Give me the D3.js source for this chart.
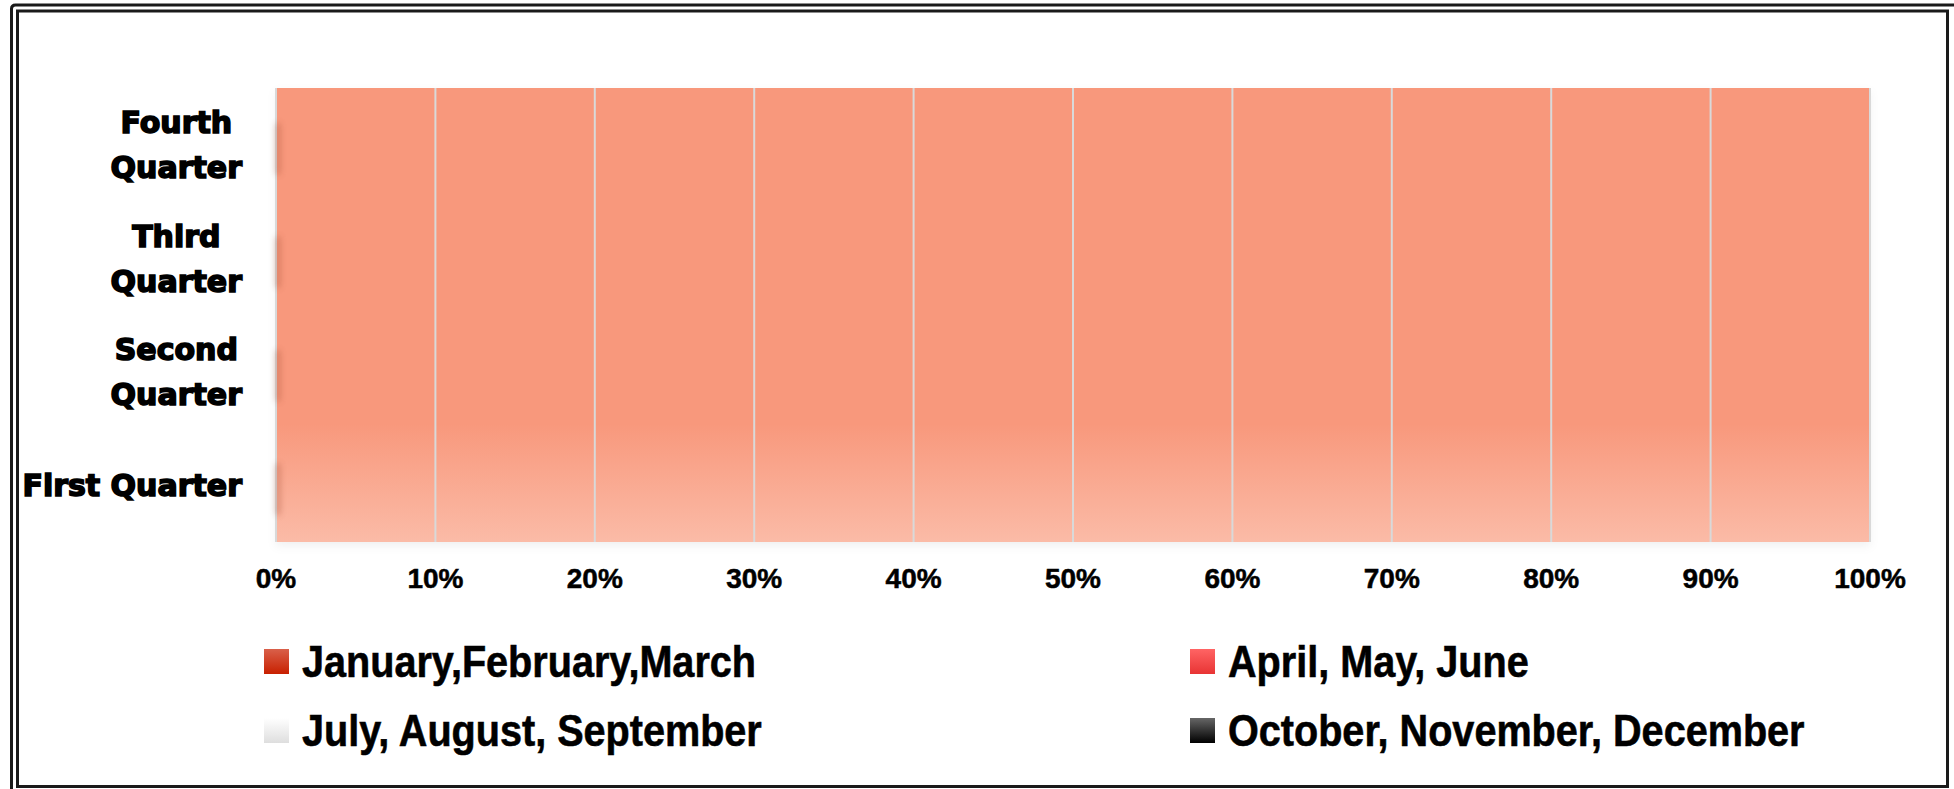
<!DOCTYPE html>
<html>
<head>
<meta charset="utf-8">
<script src="https://cdn.jsdelivr.net/npm/d3@7"></script>
<style>
  body { margin: 0; background: #fff; overflow: hidden; }
  svg { display: block; }
</style>
</head>
<body>
<svg id="chart"></svg>
<script>
// Categories (bottom to top) and series
const categories = ["First Quarter", "Second Quarter", "Third Quarter", "Fourth Quarter"];
const seriesNames = ["January,February,March", "April, May, June", "July, August, September", "October, November, December"];
// Values per series, one per category (bars are empty in the picture)
const janMar = [0, 0, 0, 0];
const aprJun = [0, 0, 0, 0];
const julSep = [0, 0, 0, 0];
const octDec = [0, 0, 0, 0];
const tickValues = [0, 0.1, 0.2, 0.3, 0.4, 0.5, 0.6, 0.7, 0.8, 0.9, 1];

const width = 1954, height = 789;
const svg = d3.select("#chart").attr("width", width).attr("height", height);
const defs = svg.append("defs");

// Frame: double border (outer one runs off the right and bottom edges)
svg.append("path").attr("d", `M11.5,${height} V9 Q11.5,5 15.5,5 H${width}`)
  .attr("fill", "none").attr("stroke", "#1a1a1a").attr("stroke-width", 3);
svg.append("rect").attr("x", 17.5).attr("y", 11).attr("width", 1930).attr("height", 775.5)
  .attr("fill", "none").attr("stroke", "#1a1a1a").attr("stroke-width", 3);

// Margin convention
const margin = { top: 88, left: 276, right: 1954 - 1870, bottom: 789 - 542 };
const innerWidth = width - margin.left - margin.right;
const innerHeight = height - margin.top - margin.bottom;

const x = d3.scaleLinear().domain([0, 1]).range([0, innerWidth]);
const y = d3.scaleBand().domain(categories.slice().reverse()).range([0, innerHeight]).paddingInner(0.55).paddingOuter(0.275);

const g = svg.append("g").attr("transform", `translate(${margin.left},${margin.top})`);

// Plot background gradient
const bg = defs.append("linearGradient").attr("id", "bg").attr("x1", 0).attr("y1", 0).attr("x2", 0).attr("y2", 1);
bg.append("stop").attr("offset", "0%").attr("stop-color", "#f8987c");
bg.append("stop").attr("offset", "74%").attr("stop-color", "#f8987c");
bg.append("stop").attr("offset", "100%").attr("stop-color", "#fbbba7");

const shadow = defs.append("filter").attr("id", "shadow").attr("x", "-5%").attr("y", "-5%").attr("width", "110%").attr("height", "115%");
shadow.append("feDropShadow").attr("dx", 0).attr("dy", 4).attr("stdDeviation", 5).attr("flood-color", "#000").attr("flood-opacity", 0.06);

g.append("rect").attr("width", innerWidth).attr("height", innerHeight)
  .attr("fill", "url(#bg)").attr("filter", "url(#shadow)");

// Gridlines
g.append("g").selectAll("line").data(tickValues).join("line")
  .attr("x1", d => x(d)).attr("x2", d => x(d))
  .attr("y1", 0).attr("y2", innerHeight)
  .attr("stroke", "#d9d9d9").attr("stroke-width", 2);

// Stacked, 100% normalised
const seriesVals = [janMar, aprJun, julSep, octDec];
const rows = categories.map((c, i) => {
  const row = { cat: c };
  const total = d3.sum(seriesVals, s => s[i]);
  seriesNames.forEach((n, j) => { row[n] = total ? seriesVals[j][i] / total : 0; });
  return row;
});
const stacked = d3.stack().keys(seriesNames)(rows);

const swatchGrads = [["#d9604a", "#c82000"], ["#ff6464", "#e83434"], ["#ffffff", "#dedede"], ["#666666", "#000000"]];
swatchGrads.forEach((c, i) => {
  const lg = defs.append("linearGradient").attr("id", "sw" + i).attr("x1", 0).attr("y1", 0).attr("x2", 0).attr("y2", 1);
  lg.append("stop").attr("offset", "0%").attr("stop-color", c[0]);
  lg.append("stop").attr("offset", "100%").attr("stop-color", c[1]);
});

const blur = defs.append("filter").attr("id", "blur").attr("x", "-300%").attr("y", "-50%").attr("width", "700%").attr("height", "200%");
blur.append("feGaussianBlur").attr("stdDeviation", 3);

// Bar shadows at the start of each bar
g.append("g").selectAll("rect").data(rows).join("rect")
  .attr("x", x(0)).attr("y", d => y(d.cat) + 4).attr("width", 4).attr("height", y.bandwidth())
  .attr("fill", "#9c4a33").attr("opacity", 0.45).attr("filter", "url(#blur)");

g.append("g").selectAll("g").data(stacked).join("g")
  .attr("fill", (d, i) => `url(#sw${i})`)
  .selectAll("rect").data(d => d).join("rect")
  .attr("x", d => x(d[0])).attr("y", d => y(d.data.cat))
  .attr("width", d => x(d[1]) - x(d[0])).attr("height", y.bandwidth());

// X tick labels
g.append("g").selectAll("text").data(tickValues).join("text")
  .attr("x", d => x(d)).attr("y", 588 - margin.top)
  .attr("text-anchor", "middle")
  .attr("font-family", "'Liberation Sans', Arial, sans-serif").attr("font-weight", "bold").attr("font-size", 28)
  .attr("fill", "#000").attr("stroke", "#000").attr("stroke-width", 0.5)
  .text(d3.format(".0%"));

// Category labels, wrapped when too long
const catLabels = g.append("g");
categories.forEach(c => {
  const cy = y(c) + y.bandwidth() / 2;
  const t = catLabels.append("text")
    .attr("font-family", "'DejaVu Sans', sans-serif").attr("font-weight", "bold").attr("font-size", 30)
    .attr("fill", "#000").attr("stroke", "#000").attr("stroke-width", 1.6)
    .attr("text-anchor", "middle").text(c);
  let lines = [c];
  if (t.node().getComputedTextLength() > 224) lines = c.split(" ");
  t.text(null);
  const widths = lines.map(l => { t.text(l); return t.node().getComputedTextLength(); });
  t.text(null);
  const cx = 242 - margin.left - d3.max(widths) / 2;
  lines.forEach((l, k) => {
    t.append("tspan").attr("x", cx).attr("y", cy + 11 - (lines.length - 1) * 22.5 + k * 45).text(l);
  });
});

// Legend
const legendPos = [[264, 649], [1190, 649], [264, 718], [1190, 718]];
const legend = svg.append("g").selectAll("g").data(seriesNames).join("g")
  .attr("transform", (d, i) => `translate(${legendPos[i][0]},${legendPos[i][1]})`);
legend.append("rect").attr("width", 25).attr("height", 25).attr("fill", (d, i) => `url(#sw${i})`);
legend.append("text").attr("transform", "translate(38,28) scale(0.88,1)")
  .attr("font-family", "'Liberation Sans', Arial, sans-serif").attr("font-weight", "bold")
  .attr("font-size", 45).attr("fill", "#000").attr("stroke", "#000").attr("stroke-width", 0.6)
  .text(d => d);
</script>
</body>
</html>
